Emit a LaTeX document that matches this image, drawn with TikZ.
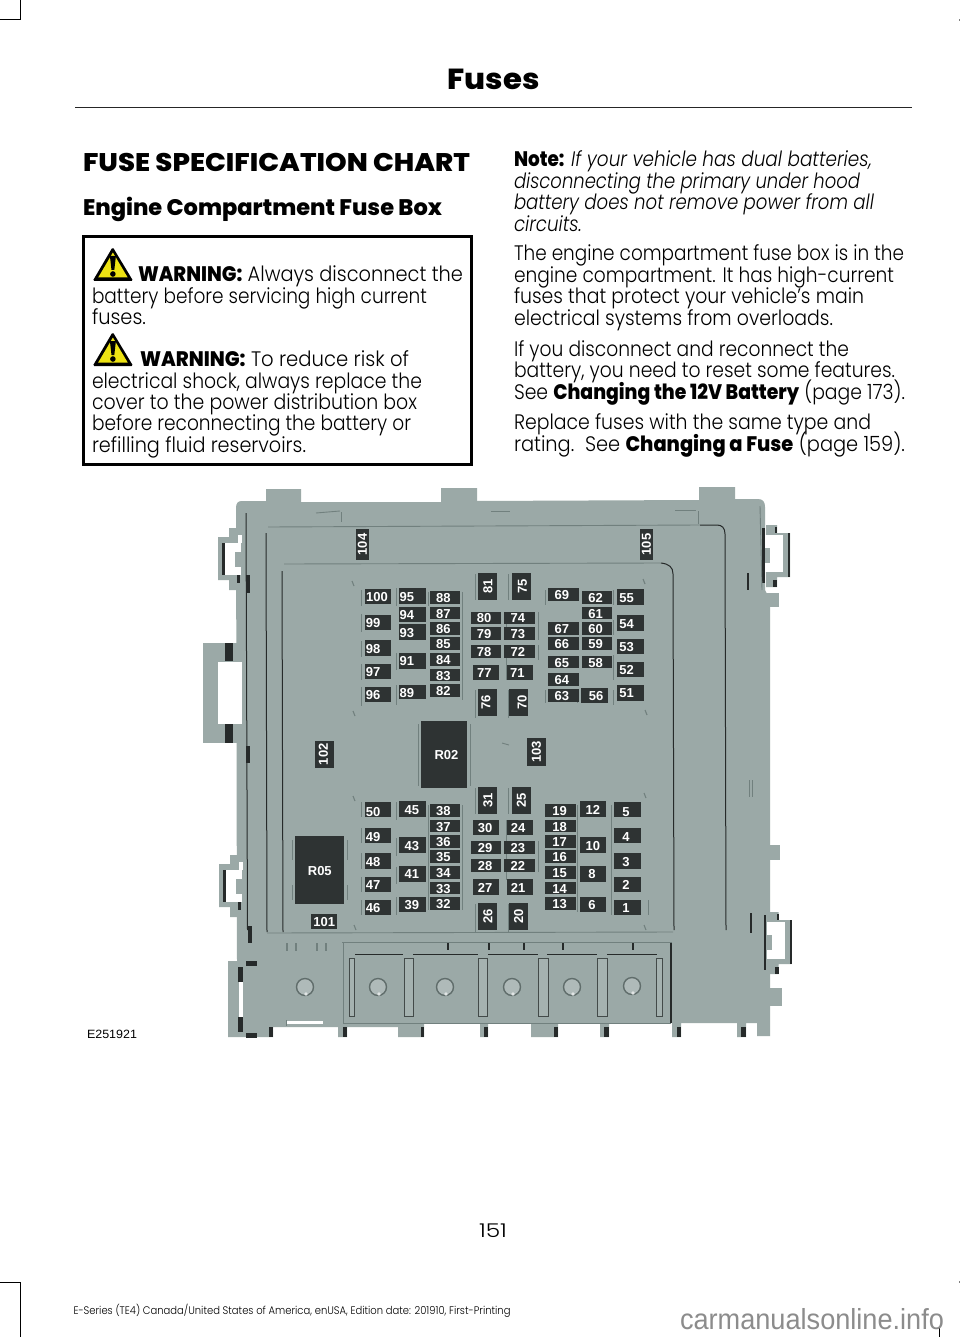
\documentclass[tikz,border=0pt]{standalone}
\usepackage{fontspec}
\usepackage{graphicx}
\setmainfont{Poppins Light}
\newfontfamily\heavyf{Poppins ExtraBold}
\newfontfamily\itf{Poppins Light Italic}
\newfontfamily\fusef{Liberation Sans Bold}
\newfontfamily\capf{Liberation Sans}
\definecolor{bodyg}{HTML}{9BA9A7}
\definecolor{lineg}{HTML}{71807E}
\definecolor{fusec}{HTML}{2E3333}
\definecolor{darkc}{HTML}{262A2A}
\tikzset{
  fusebox/.style={fill=fusec,draw=none},
  fuselabel/.style={inner sep=0pt,text=white,font=\fontsize{13}{13}\selectfont\fusef},
  txt/.style={anchor=base west,inner sep=0pt,outer sep=0pt,text=black},
  dk/.style={draw=darkc,line width=1pt},
  fnt/.style={draw=lineg,line width=.9pt},
  dkf/.style={fill=darkc,draw=none}
}
% horizontal fuse: [label dx], label, x0, y0, x1, y1
\newcommand\fh[6][0]{\path[fusebox] (#3,#4) rectangle (#5,#6);
  \node[fuselabel,xshift=#1pt,yshift=-.6pt] (f#2) at ({(#3+#5)/2},{(#4+#6)/2}) {#2};}
\newcommand\fv[6][0]{\path[fusebox] (#3,#4) rectangle (#5,#6);
  \node[fuselabel,xshift=#1pt,rotate=90] (f#2) at ({(#3+#5)/2},{(#4+#6)/2}) {#2};}
% text line: x, baseline y, width, size, text
\newcommand\tl[5]{\node[txt] at (#1,#2) {\resizebox{#3pt}{\height}{\fontsize{#4}{#4}\selectfont #5}};}
\newcommand\warnicon[2]{\begin{scope}[shift={(#1,#2)}]
  \path[fill=black,rounded corners=1.5pt] (0,34) -- (20,0) -- (40.5,34) -- cycle;
  \path[fill=yellow!92!black] (5.5,30.5) -- (20.2,5.5) -- (35,30.5) -- cycle;
  \path[fill=black] (17.2,9) -- (23.2,9) -- (21.6,23) -- (18.8,23) -- cycle;
  \path[fill=black] (20.2,27) circle (2.8);
\end{scope}}
\newcommand\clipleft{%
  \path[fill=bodyg] (229,528) -- (237,528) -- (237,537) -- (237,590) -- (229,590) -- (229,580) -- (218,580) -- (218,537) -- (229,537) -- cycle;
  \path[fill=white] (225,543) rectangle (241,575);
  \path[fill=white] (238,535) rectangle (242,543);
  \path[fill=bodyg] (235,552) rectangle (241,567);
  \path[dkf] (222,543) rectangle (225,575);
  \path[dkf] (236.5,575) rectangle (240,583);
}
\newcommand\clipright{%
  \path[fill=bodyg] (766,525) -- (777,525) -- (777,533) -- (790,533) -- (790,577) -- (777,577) -- (777,587) -- (766,587) -- cycle;
  \path[fill=white] (765,535) rectangle (783,572);
  \path[fill=bodyg] (764,548) rectangle (770,563);
  \path[dkf] (788,533) rectangle (790,577);
  \path[dkf] (762,528) rectangle (764.5,583);
  \path[dkf] (775,527) rectangle (777,533);
  \path[dkf] (773,580) rectangle (777,587);
}
\newcommand\bolt[2]{\path[fill=bodyg!80!white,draw=lineg!85!black,line width=1.4pt] (#1,#2) circle (8.5);
  \path[fill=white!70!bodyg] (#1+1,#2+7) circle (1.8);}
\begin{document}
\begin{tikzpicture}[x=1pt,y=-1pt]
\useasboundingbox (0,0) rectangle (960,1337);
\fill[white] (0,0) rectangle (960,1337);
% crop marks
\draw[black,line width=1pt] (0,20) -- (20,20) -- (20,0);
\draw[black,line width=1pt] (0,1282) -- (20,1282) -- (20,1337);
\draw[black,line width=1pt] (939,1328) -- (939,1337);
\fill[gray] (958.8,19.5) rectangle (960,21.5);
\fill[gray] (958.8,1281) rectangle (960,1283);
% header
\node[txt,anchor=base] (title) at (493.5,90) {\resizebox{92pt}{\height}{\fontsize{29}{29}\selectfont\heavyf Fuses}};
\draw[black!85,line width=1.6pt] (75,107.7) -- (912,107.7);
\tl{83}{172}{387}{25.5}{\heavyf FUSE SPECIFICATION CHART}
\tl{83}{216}{359}{22.5}{\heavyf Engine Compartment Fuse Box}
% warning box
\draw[black,line width=3pt] (83,236.5) rectangle (471.5,464.5);
\warnicon{92.7}{247}
\warnicon{92.7}{332}
\tl{138}{282}{325}{21}{{\heavyf WARNING:} Always disconnect the}
\tl{92}{303.5}{335}{21}{battery before servicing high current}
\tl{92}{324.5}{54}{21}{fuses.}
\tl{140}{366}{269}{21}{{\heavyf WARNING:} To reduce risk of}
\tl{92}{388}{330}{21}{electrical shock, always replace the}
\tl{92}{409}{325}{21}{cover to the power distribution box}
\tl{92}{430.5}{319}{21}{before reconnecting the battery or}
\tl{92}{452}{214}{21}{refilling fluid reservoirs.}
% right column
\tl{514}{166.7}{358}{21}{{\heavyf Note:} {\itf If your vehicle has dual batteries,}}
\tl{514}{188.7}{346}{21}{\itf disconnecting the primary under hood}
\tl{514}{210}{360}{21}{\itf battery does not remove power from all}
\tl{514}{231.7}{68}{21}{\itf circuits.}
\tl{514}{261}{390}{21}{The engine compartment fuse box is in the}
\tl{514}{282.5}{380}{21}{engine compartment. It has high-current}
\tl{514}{304}{350}{21}{fuses that protect your vehicle's main}
\tl{514}{325}{319}{21}{electrical systems from overloads.}
\tl{514}{356}{335}{21}{If you disconnect and reconnect the}
\tl{514}{377.5}{381}{21}{battery, you need to reset some features.}
\tl{514}{399}{391}{21}{See {\heavyf Changing the 12V Battery} (page 173).}
\tl{514}{429}{357}{21}{Replace fuses with the same type and}
\tl{514}{451}{391}{21}{rating.\ \ See {\heavyf Changing a Fuse} (page 159).}
% fuse box body
\path[fill=bodyg]
 (236,508) .. controls (236,503) and (238,501) .. (242,501) -- (266,501) -- (266,489) -- (301,489) -- (301,502) -- (441,502) -- (441,488) -- (477,488) -- (477,501) -- (699,500) -- (699,487) -- (735,487) -- (735,499) -- (758,499) .. controls (763,499) and (765,502) .. (765,507) -- (765,590) -- (770,600) -- (770,1036) -- (757,1036) -- (757,1023) -- (746,1023) -- (746,1037) -- (737,1037) -- (737,1023) -- (681,1023) -- (681,1037) -- (672,1037) -- (672,1023) -- (609,1023) -- (609,1037) -- (600,1037) -- (600,1023) -- (558,1023) -- (558,1037) -- (531,1037) -- (531,1023) -- (488,1023) -- (488,1037) -- (480,1037) -- (480,1023) -- (424,1023) -- (424,1037) -- (398,1037) -- (398,1027) -- (347,1027) -- (347,1037) -- (338,1037) -- (338,1027) -- (273,1027) -- (273,1037) -- (228,1037) -- (228,961) -- (237,961) -- cycle;
% left big tab
\path[fill=bodyg] (203,643) rectangle (237,743);
\path[fill=white] (218,662) rectangle (242,724);
\path[dkf] (225,643) rectangle (233,661);
\path[dkf] (225,724) rectangle (233,743);
% clips
\clipleft
\begin{scope}[shift={(1,327)}]\clipleft\end{scope}
\clipright
\begin{scope}[shift={(1.5,387)}]\clipright\end{scope}
% right tabs
\path[fill=bodyg] (764,593) rectangle (779,607);
\path[fill=bodyg] (765,845) rectangle (780,860);
\path[fill=bodyg] (765,988) rectangle (782,1006);
% bottom-left slit and dark parts
\path[fill=white] (239,982) rectangle (243,1017);
\path[dkf] (238,967) rectangle (243,982);
\path[dkf] (238,1017) rectangle (243,1032);
\path[dkf] (246,961) rectangle (257,966);
\path[dkf] (246,1033) rectangle (257,1038);
\foreach \a/\b in {269/273,343/347,421/424,484/488,554/558,604/609,677/681,741/746}
  {\path[dkf] (\a,1027) rectangle (\b,1037);}
\path[dkf] (246,575) rectangle (250,593);
\path[dkf] (246,746) rectangle (250,763);
\path[dkf] (248,926) rectangle (252,943);
\path[dkf] (749.5,913) rectangle (751.5,933);
\path[dkf] (747,573) rectangle (749,590);
% long inner lines
\draw[dk] (246,513) -- (247.5,930);
\draw[dk] (266,533) -- (267,932);
\draw[dk] (282,571) -- (283,932);
\draw[dk] (700,525) -- (717,525) .. controls (722,525) and (725,528) .. (725,534) -- (726,930);
\draw[dk] (661,563) .. controls (669,564) and (673,567) .. (673,574) -- (674,930);
\draw[fnt] (760,506) -- (762,590);
\draw[fnt] (268,527) -- (700,525);
\draw[fnt] (284,564) -- (661,563);
\draw[fnt] (267,933) -- (673,932);
\draw[fnt] (316,513) -- (340,511);
\draw[fnt] (341,512) -- (341,522);
\draw[fnt] (491,511) -- (510,511);
\draw[fnt] (675,510) -- (696,510);
\draw[fnt] (698,511) -- (698,524);
\draw[fnt] (749,780) -- (749,797);
\draw[fnt] (752,780) -- (752,797);
% corner marks near the fuse field
\foreach \x/\y in {352/581,353/711,643/579,645/710,353/796,354/925,644/793,644/925}
  {\draw[fnt,line width=1.1pt] (\x,\y) -- (\x+2,\y+5);}
\draw[fnt] (502,743) -- (509,745);
% tick marks beside fuses
\foreach \x/\a/\b in {361/590/606,361/614/632,361/641/657,361/664/680,361/687/706,
  396/588/606,396/653/670,396/685/705,396/802/820,396/838/856,396/867/884,396/897/915,
  361/802/817,361/828/843,361/853/869,361/877/892,361/900/915,
  475/574/600,475/690/718,475/788/814,475/904/932,
  508/574/600,508/690/718,508/788/814,508/904/932,
  506/612/640,506/645/680,506/820/880,
  538/612/640,538/645/660,538/841/872,
  545/590/605,545/690/703,
  577/690/703,577/805/912,
  613/590/605,613/620/635,613/655/680,613/690/705,
  611/805/915,648/900/915,
  428/592/606,462/592/700,428/805/910,462/805/910,
  418/724/786,470/724/786,292/840/860,292/885/900,347/840/860,347/885/900}
  {\draw[fnt,line width=.7pt] (\x,\a) -- (\x,\b);}
% bottom compartments
\draw[fnt] (342,942) -- (672,942);
\draw[fnt] (343,942) -- (343,1024);
\draw[dk,line width=1.2pt] (671,943) -- (671,1023);
\draw[fnt] (344,1023) -- (671,1023);
\draw[dk,line width=.9pt] (355,954) -- (403,954);
\draw[dk,line width=.9pt] (413,954) -- (478,954);
\draw[dk,line width=.9pt] (488,954) -- (538,954);
\draw[dk,line width=.9pt] (547,954) -- (597,954);
\draw[dk,line width=.9pt] (607,954) -- (657,954);
\foreach \a/\b in {349/354,404/413,478/487,538/548,597/607,656/662}
  {\draw[draw=darkc!75!bodyg,line width=.8pt,fill=bodyg!90!white] (\a,958) rectangle (\b,1016);}
\foreach \x in {287,296,317,326}{\draw[fnt,line width=1.2pt] (\x,943) -- (\x,951);}
\foreach \x in {448,489,524,563,633}{\draw[dk,line width=1.5pt] (\x,943) -- (\x,950);}
\path[fill=white] (287,1021) rectangle (323,1024);
\draw[fnt] (286,1020) -- (286,1026);
\bolt{305}{987}\bolt{378}{987}\bolt{445}{987}\bolt{512}{987}\bolt{572}{987}\bolt{632}{986}
% relays
\fh[2.3]{R02}{421}{721}{467.3}{788}
\fh{R05}{295.3}{836.3}{344.3}{904}
% fuses upper
\fv{104}{356}{529}{369}{560}
\fv{105}{640}{529}{653}{560}
\fv[-1]{102}{314.7}{741}{334}{767.7}
\fv{103}{527}{738.3}{546}{765.7}
\fh[-1]{100}{364.7}{589}{391.3}{604.3}
\fh[-5]{99}{364.7}{614.7}{391.3}{630}
\fh[-5]{98}{364.7}{640.3}{391.3}{655.7}
\fh[-5]{97}{364.7}{663.7}{391.3}{679}
\fh[-5]{96}{364.7}{686.7}{391.3}{702.3}
\fh[-5.7]{95}{399.3}{588.3}{426}{604}
\fh[-5.7]{94}{399.3}{606.7}{426}{622}
\fh[-5.7]{93}{399.3}{624.3}{426}{640}
\fh[-5.7]{91}{399.3}{653}{426}{668.7}
\fh[-5.7]{89}{399.3}{685}{426}{699.3}
\fh[-1.5]{88}{429.7}{591}{460}{604}
\fh[-1.5]{87}{429.7}{606.7}{460}{619.3}
\fh[-1.5]{86}{429.7}{622}{460}{634.7}
\fh[-1.5]{85}{429.7}{637.3}{460}{650}
\fh[-1.5]{84}{429.7}{653}{460}{665.7}
\fh[-1.5]{83}{429.7}{668.7}{460}{681.3}
\fh[-1.5]{82}{429.7}{684}{460}{696.7}
\fv{81}{478.3}{573.3}{497.3}{600}
\fh[-2]{80}{471}{611.7}{501}{624}
\fh[-2]{79}{471}{627}{501}{639.7}
\fh[-2]{78}{471}{645}{501}{657.7}
\fh[-2]{77}{473.3}{665}{499.3}{680.3}
\fv[-1.8]{76}{478.3}{689.3}{497.3}{716}
\fv[1]{75}{511.7}{573.3}{531}{600}
\fh[-1.7]{74}{504.3}{611.7}{535}{624}
\fh[-1.7]{73}{504.3}{627}{535}{639.7}
\fh[-1.7]{72}{504.3}{645}{535}{657.7}
\fh[-2.7]{71}{507}{665}{533.3}{680.3}
\fv[3.4]{70}{509}{689.3}{528.3}{716}
\fh[-1.7]{69}{548.3}{588.3}{579}{601}
\fh[-1.7]{67}{548.3}{622}{579}{634.7}
\fh[-1.7]{66}{548.3}{637.3}{579}{650}
\fh[-1.7]{65}{548.3}{655.7}{579}{668.3}
\fh[-1.7]{64}{548.3}{673.3}{579}{686}
\fh[-1.7]{63}{548.3}{689}{579}{701.7}
\fh[-1.5]{62}{581.7}{591}{612.3}{604}
\fh[-1.5]{61}{581.7}{606.7}{612.3}{619.3}
\fh[-1.5]{60}{581.7}{622}{612.3}{634.7}
\fh[-1.5]{59}{581.7}{637.3}{612.3}{650}
\fh[-1.5]{58}{581.7}{655.7}{612.3}{668.3}
\fh[1.7]{56}{581}{687.7}{607.7}{703.3}
\fh[-3.8]{55}{617}{589.3}{643.7}{605}
\fh[-3.8]{54}{617}{615.3}{643.7}{630.7}
\fh[-3.8]{53}{617}{638.7}{643.7}{654}
\fh[-3.8]{52}{617}{662}{643.7}{677.3}
\fh[-3.8]{51}{617}{685}{643.7}{700.7}
% fuses lower
\fh{101}{311}{914}{337.3}{929}
\fh[-5pt,yshift=-1.5]{50}{364.7}{802}{391.3}{817.3}
\fh[-5pt,yshift=-1.5]{49}{364.7}{827.7}{391.3}{843}
\fh[-5]{48}{364.7}{853.3}{391.3}{868.7}
\fh[-5]{47}{364.7}{876.7}{391.3}{892}
\fh[-5]{46}{364.7}{900}{391.3}{915.3}
\fh[-.7]{45}{399.3}{801.3}{426}{817}
\fh[-.7]{43}{399.3}{837.3}{426}{853}
\fh[-.7]{41}{399.3}{866}{426}{881.7}
\fh[-.7]{39}{399.3}{896.7}{426}{912.3}
\fh[-1.5]{38}{429.7}{804}{460}{817}
\fh[-1.5]{37}{429.7}{819.7}{460}{832.3}
\fh[-1.5]{36}{429.7}{835}{460}{847.7}
\fh[-1.5]{35}{429.7}{850.3}{460}{863}
\fh[-1.5]{34}{429.7}{866}{460}{878.7}
\fh[-1.5]{33}{429.7}{881.7}{460}{894.3}
\fh[-1.5]{32}{429.7}{897}{460}{909.7}
\fv{31}{478.3}{787.3}{497.3}{814}
\fh[-1.3]{30}{473.3}{820}{499.3}{835.3}
\fh[-1]{29}{471}{841}{501}{853.7}
\fh[-1]{28}{471}{859}{501}{871.7}
\fh[-1.3]{27}{473.3}{879.3}{499.3}{894.7}
\fv{26}{478.3}{903.3}{497.3}{930}
\fv{25}{511.7}{787.3}{531}{814}
\fh[-2]{24}{507}{820}{533.3}{835.3}
\fh[-1.7]{23}{504.3}{841}{535}{853.7}
\fh[-1.7]{22}{504.3}{859}{535}{871.7}
\fh[-2]{21}{507}{879.3}{533.3}{894.7}
\fv{20}{509}{903.3}{528.3}{930}
\fh[-1]{19}{545.3}{804}{576}{817}
\fh[-1]{18}{545.3}{819.7}{576}{832.3}
\fh[-1]{17}{545.3}{835}{576}{847.7}
\fh[-1]{16}{545.3}{850.3}{576}{863}
\fh[-1]{15}{545.3}{866}{576}{878.7}
\fh[-1]{14}{545.3}{881.7}{576}{894.3}
\fh[-1]{13}{545.3}{897}{576}{909.7}
\fh{12}{579.7}{801.3}{606}{817}
\fh{10}{579.7}{837.3}{606}{853}
\fh[-.8]{8}{579.7}{866}{606}{881.7}
\fh[-.8]{6}{579.7}{896.7}{606}{912.3}
\fh[-1.5pt,yshift=-1.5]{5}{614.3}{802}{640.7}{817.3}
\fh[-1.5pt,yshift=-1.5]{4}{614.3}{827.7}{640.7}{843}
\fh[-1.5]{3}{614.3}{853.3}{640.7}{868.7}
\fh[-1.5]{2}{614.3}{876.7}{640.7}{892}
\fh[-1.5]{1}{614.3}{900}{640.7}{915.3}
% captions
\node[txt] (code) at (87,1038) {\resizebox{50pt}{\height}{\fontsize{12}{12}\selectfont\capf E251921}};
\node[txt,anchor=base] (page) at (493,1237) {\resizebox{28pt}{\height}{\fontsize{19}{19}\selectfont 151}};
\tl{73.5}{1314}{437}{11}{E-Series (TE4) Canada/United States of America, enUSA, Edition date: 201910, First-Printing}
\node[txt,text=black!45] (wm) at (680,1329) {\resizebox{264pt}{\height}{\fontsize{29}{29}\selectfont\capf carmanualsonline.info}};
\end{tikzpicture}
\end{document}
